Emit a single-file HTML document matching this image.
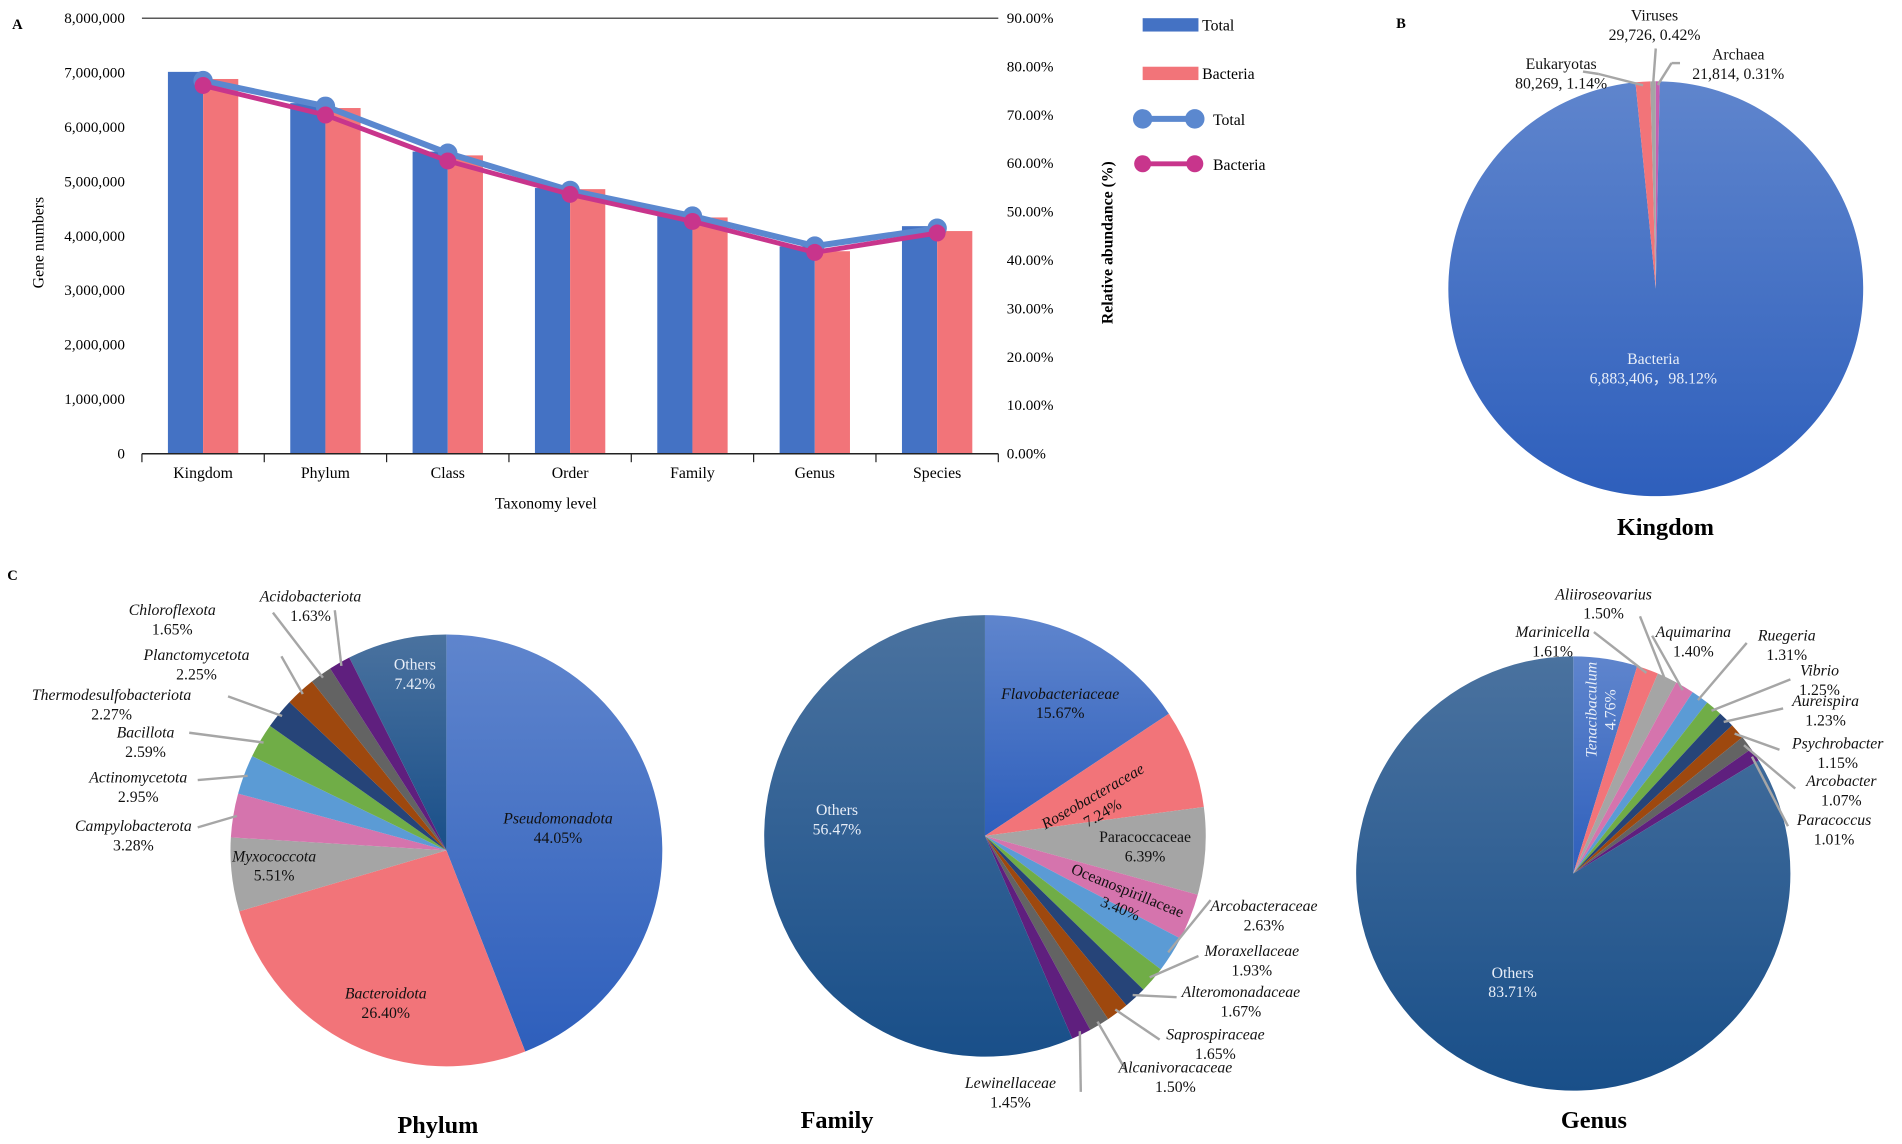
<!DOCTYPE html>
<html><head><meta charset="utf-8">
<style>
html,body{margin:0;padding:0;background:#fff;}
svg{display:block;font-family:"Liberation Serif",serif;}
</style></head>
<body>
<svg id="root" xmlns="http://www.w3.org/2000/svg" width="1902" height="1144" viewBox="0 0 1568 943" preserveAspectRatio="none">
<defs>
<linearGradient id="gBlue" x1="0" y1="0" x2="0" y2="1"><stop offset="0" stop-color="#5f85cd"/><stop offset="1" stop-color="#2e5fbc"/></linearGradient>
<linearGradient id="gOth" x1="0" y1="0" x2="0" y2="1"><stop offset="0" stop-color="#4a729f"/><stop offset="1" stop-color="#194f89"/></linearGradient>
</defs>
<g id="panelA"></g>
<g id="panelB"></g>
<g id="panelC"></g>
</svg>
<script>
// ---------- Panel A data ----------
const categories = ["Kingdom","Phylum","Class","Order","Family","Genus","Species"];
const totalGenes = [7014215,6440000,5550000,4880000,4390000,3810000,4180000];
const bacteriaGenes = [6883406,6350000,5480000,4860000,4340000,3720000,4090000];
const totalPct = [77.1,71.8,62.1,54.4,49.1,42.9,46.6];
const bacteriaPct = [76.1,70.0,60.5,53.6,48.0,41.6,45.6];
const leftTicks = [0,1000000,2000000,3000000,4000000,5000000,6000000,7000000,8000000];
const rightTicks = [0,10,20,30,40,50,60,70,80,90];

// ---------- Panel B data ----------
const kingdomNames = ["Archaea","Bacteria","Eukaryotas","Viruses"];
const kingdomValues = [0.31,98.12,1.14,0.42];

// ---------- Panel C data ----------
const phylumNames = ["Pseudomonadota","Bacteroidota","Myxococcota","Campylobacterota","Actinomycetota","Bacillota","Thermodesulfobacteriota","Planctomycetota","Chloroflexota","Acidobacteriota","Others"];
const phylumValues = [44.05,26.40,5.51,3.28,2.95,2.59,2.27,2.25,1.65,1.63,7.42];
const familyNames = ["Flavobacteriaceae","Roseobacteraceae","Paracoccaceae","Oceanospirillaceae","Arcobacteraceae","Moraxellaceae","Alteromonadaceae","Saprospiraceae","Alcanivoracaceae","Lewinellaceae","Others"];
const familyValues = [15.67,7.24,6.39,3.40,2.63,1.93,1.67,1.65,1.50,1.45,56.47];
const genusNames = ["Tenacibaculum","Marinicella","Aliiroseovarius","Aquimarina","Ruegeria","Vibrio","Aureispira","Psychrobacter","Arcobacter","Paracoccus","Others"];
const genusValues = [4.76,1.61,1.50,1.40,1.31,1.25,1.23,1.15,1.07,1.01,83.71];

const NS="http://www.w3.org/2000/svg";
function mk(tag,attrs,parent,txt){const e=document.createElementNS(NS,tag);for(const k in attrs)e.setAttribute(k,attrs[k]);if(txt!==undefined)e.textContent=txt;parent.appendChild(e);return e;}
const fmt=n=>n.toLocaleString("en-US");

// ---------- Panel A ----------
(function(){
const g=document.getElementById("panelA");
const x0=117,x1=823,yTop=15,yBot=374;
const band=(x1-x0)/categories.length;
const yL=v=>yBot-(v/8000000)*(yBot-yTop);
const yR=v=>yBot-(v/90)*(yBot-yTop);
const xc=i=>x0+band*(i+0.5);
let t=mk("text",{x:10,y:24,"font-size":12,"font-weight":"bold"},g,"A");

leftTicks.forEach(v=>{const e=mk("text",{x:103,y:yL(v)+4,"font-size":12.5,"text-anchor":"end"},g,fmt(v));
});
rightTicks.forEach(v=>{const e=mk("text",{x:830,y:yR(v)+4,"font-size":12.5},g,v.toFixed(2)+"%");
});
categories.forEach((c,i)=>{
const b1=mk("rect",{x:xc(i)-29,y:yL(totalGenes[i]),width:29,height:yBot-yL(totalGenes[i]),fill:"#4472c4"},g);

const b2=mk("rect",{x:xc(i),y:yL(bacteriaGenes[i]),width:29,height:yBot-yL(bacteriaGenes[i]),fill:"#f27479"},g);

const l=mk("text",{x:xc(i),y:394,"font-size":13,"text-anchor":"middle"},g,c);

});
mk("line",{x1:x0,y1:yTop,x2:x1,y2:yTop,stroke:"#222","stroke-width":1},g);
mk("line",{x1:x0,y1:yBot,x2:x1,y2:yBot,stroke:"#222","stroke-width":1.2},g);
for(let i=0;i<=categories.length;i++){mk("line",{x1:x0+band*i,y1:yBot,x2:x0+band*i,y2:yBot+7,stroke:"#222","stroke-width":1},g);}
function series(vals,col,w,r,name){
const pts=vals.map((v,i)=>xc(i)+","+yR(v)).join(" ");
const pl=mk("polyline",{points:pts,fill:"none",stroke:col,"stroke-width":w,"stroke-linejoin":"round"},g);

vals.forEach((v,i)=>{const c=mk("circle",{cx:xc(i),cy:yR(v),r:r,fill:col},g);
});
}
series(totalPct,"#5b88cf",5,8,"total");
series(bacteriaPct,"#c8358c",4,7,"bacteria");
t=mk("text",{x:450,y:419,"font-size":13,"text-anchor":"middle"},g,"Taxonomy level");

t=mk("text",{x:36,y:200,"font-size":13,"text-anchor":"middle",transform:"rotate(-90 36 200)"},g,"Gene numbers");

t=mk("text",{x:917,y:200,"font-size":13,"font-weight":"bold","text-anchor":"middle",transform:"rotate(-90 917 200)"},g,"Relative abundance (%)");

const lg=mk("g",{},g);
mk("rect",{x:942,y:15,width:46,height:11,fill:"#4472c4"},lg);
mk("text",{x:991,y:25,"font-size":13},lg,"Total");
mk("rect",{x:942,y:55,width:46,height:11,fill:"#f27479"},lg);
mk("text",{x:991,y:65,"font-size":13},lg,"Bacteria");
mk("line",{x1:942,y1:98,x2:985,y2:98,stroke:"#5b88cf","stroke-width":5},lg);
mk("circle",{cx:942,cy:98,r:8,fill:"#5b88cf"},lg);mk("circle",{cx:985,cy:98,r:8,fill:"#5b88cf"},lg);
mk("text",{x:1000,y:103,"font-size":13},lg,"Total");
mk("line",{x1:942,y1:135,x2:985,y2:135,stroke:"#c8358c","stroke-width":4},lg);
mk("circle",{cx:942,cy:135,r:7,fill:"#c8358c"},lg);mk("circle",{cx:985,cy:135,r:7,fill:"#c8358c"},lg);
mk("text",{x:1000,y:140,"font-size":13},lg,"Bacteria");
})();

// ---------- pie helper ----------
function pie(g,cx,cy,r,names,vals,colors,prefix){
const tot=vals.reduce((a,b)=>a+b,0);let a=0;const mids=[];
vals.forEach((v,i)=>{
const a0=a/tot*2*Math.PI;a+=v;const a1=a/tot*2*Math.PI;
const p0=[cx+r*Math.sin(a0),cy-r*Math.cos(a0)],p1=[cx+r*Math.sin(a1),cy-r*Math.cos(a1)];
const large=(a1-a0)>Math.PI?1:0;
const p=mk("path",{d:`M${cx},${cy}L${p0[0]},${p0[1]}A${r},${r} 0 ${large} 1 ${p1[0]},${p1[1]}Z`,fill:colors[i]},g);


const am=(a0+a1)/2;mids.push([cx+(r-3)*Math.sin(am),cy-(r-3)*Math.cos(am)]);
});
return mids;
}
function label(g,x,y,lines,opts){
opts=opts||{};
const t=mk("text",{x:x,y:y,"font-size":opts.fs||13,"text-anchor":"middle",fill:opts.fill||"#111"},g);
if(opts.rot!==undefined)t.setAttribute("transform",`rotate(${opts.rot} ${x} ${y})`);
lines.forEach((l,k)=>{const ts=mk("tspan",{x:x,dy:k?16:0},t,l);if(k===0&&opts.italic)ts.setAttribute("font-style","italic");});

return t;
}
function leader(g,from,to){
const l=mk("polyline",{points:`${from[0]},${from[1]} ${to[0]},${to[1]}`,fill:"none",stroke:"#a6a6a6","stroke-width":2},g);

}
const pal=["url(#gBlue)","#f27479","#a5a5a5","#d574ad","#5b9bd5","#70ad47","#264478","#9e480e","#636363","#5f1f7e","url(#gOth)"];
function title(g,x,y,s){const t=mk("text",{x:x,y:y,"font-size":20,"font-weight":"bold","text-anchor":"middle"},g,s);
}

// ---------- Panel B ----------
(function(){
const g=document.getElementById("panelB");
let t=mk("text",{x:1151,y:23,"font-size":12,"font-weight":"bold"},g,"B");

const m=pie(g,1365,238,171,kingdomNames,kingdomValues,["#c75fb0","url(#gBlue)","#f27479","#a5a5a5"],"kingdom");
leader(g,m[2],[1318,61]);leader(g,[1318,61],[1305,59]);
leader(g,m[3],[1365,40]);
leader(g,m[0],[1378,52]);leader(g,[1378,52],[1385,52]);
label(g,1364,17,["Viruses","29,726, 0.42%"]);
label(g,1287,57,["Eukaryotas","80,269, 1.14%"]);
label(g,1433,49,["Archaea","21,814, 0.31%"]);
label(g,1363,300,["Bacteria","6,883,406，98.12%"],{fill:"#e8eef8"});
title(g,1373,441,"Kingdom");
})();

// ---------- Panel C ----------
(function(){
const g=document.getElementById("panelC");
let t=mk("text",{x:6,y:478,"font-size":12,"font-weight":"bold"},g,"C");

// Phylum
const gp=mk("g",{},g);
let m=pie(gp,368,701,178,phylumNames,phylumValues,pal,"phylum");
const pL=[[163,682],[163,643],[156,604],[188,574],[232,541],[225,505],[276,503]];
[3,4,5,6,7,8,9].forEach((i,k)=>leader(gp,m[i],pL[k]));
label(gp,460,679,["Pseudomonadota","44.05%"],{italic:1});
label(gp,318,823,["Bacteroidota","26.40%"],{italic:1});
label(gp,226,710,["Myxococcota","5.51%"],{italic:1});
label(gp,110,685,["Campylobacterota","3.28%"],{italic:1});
label(gp,114,645,["Actinomycetota","2.95%"],{italic:1});
label(gp,120,608,["Bacillota","2.59%"],{italic:1});
label(gp,92,577,["Thermodesulfobacteriota","2.27%"],{italic:1});
label(gp,162,544,["Planctomycetota","2.25%"],{italic:1});
label(gp,142,507,["Chloroflexota","1.65%"],{italic:1});
label(gp,256,496,["Acidobacteriota","1.63%"],{italic:1});
label(gp,342,552,["Others","7.42%"],{fill:"#e8eef8"});
title(gp,361,934,"Phylum");
// Family
const gf=mk("g",{},g);
m=pie(gf,812,689,182,familyNames,familyValues,pal,"family");
const fL=[[998,742],[988,788],[970,822],[956,857],[928,882],[891,900]];
[4,5,6,7,8,9].forEach((i,k)=>leader(gf,m[i],fL[k]));
label(gf,874,576,["Flavobacteriaceae","15.67%"],{italic:1});
label(gf,903,660,["Roseobacteraceae","7.24%"],{italic:1,rot:-30});
label(gf,944,694,["Paracoccaceae","6.39%"]);
label(gf,928,738,["Oceanospirillaceae","3.40%"],{rot:22});
label(gf,1042,751,["Arcobacteraceae","2.63%"],{italic:1});
label(gf,1032,788,["Moraxellaceae","1.93%"],{italic:1});
label(gf,1023,822,["Alteromonadaceae","1.67%"],{italic:1});
label(gf,1002,857,["Saprospiraceae","1.65%"],{italic:1});
label(gf,969,884,["Alcanivoracaceae","1.50%"],{italic:1});
label(gf,833,897,["Lewinellaceae","1.45%"],{italic:1});
label(gf,690,672,["Others","56.47%"],{fill:"#e8eef8"});
title(gf,690,930,"Family");
// Genus
const gg=mk("g",{},g);
m=pie(gg,1297,720,179,genusNames,genusValues,pal,"genus");
const gL=[[1314,521],[1352,508],[1362,524],[1440,530],[1476,560],[1470,584],[1467,618],[1480,650],[1474,681]];
[1,2,3,4,5,6,7,8,9].forEach((i,k)=>leader(gg,m[i],gL[k]));
label(gg,1316,585,["Tenacibaculum","4.76%"],{italic:1,fill:"#e8eef8",rot:-90});
label(gg,1280,525,["Marinicella","1.61%"],{italic:1});
label(gg,1322,494,["Aliiroseovarius","1.50%"],{italic:1});
label(gg,1396,525,["Aquimarina","1.40%"],{italic:1});
label(gg,1473,528,["Ruegeria","1.31%"],{italic:1});
label(gg,1500,557,["Vibrio","1.25%"],{italic:1});
label(gg,1505,582,["Aureispira","1.23%"],{italic:1});
label(gg,1515,617,["Psychrobacter","1.15%"],{italic:1});
label(gg,1518,648,["Arcobacter","1.07%"],{italic:1});
label(gg,1512,680,["Paracoccus","1.01%"],{italic:1});
label(gg,1247,806,["Others","83.71%"],{fill:"#e8eef8"});
title(gg,1314,930,"Genus");
})();
</script>
</body></html>
